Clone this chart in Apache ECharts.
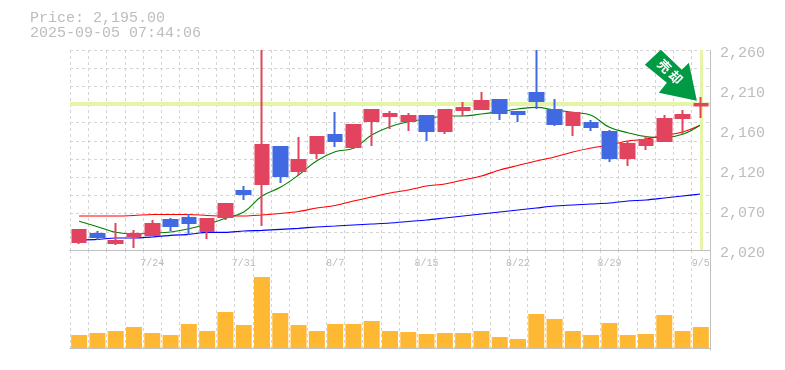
<!DOCTYPE html>
<html>
<head>
<meta charset="utf-8">
<style>html,body{margin:0;padding:0;background:#fff}#c{width:785px;height:370px}</style>
<script src="https://cdn.jsdelivr.net/npm/echarts@6/dist/echarts.min.js"></script>
</head>
<body>
<div id="c"></div>
<script>
const dates = ['7/17','7/18','7/22','7/23','7/24','7/25','7/28','7/29','7/30','7/31','8/1','8/4','8/5','8/6','8/7','8/8','8/12','8/13','8/14','8/15','8/18','8/19','8/20','8/21','8/22','8/25','8/26','8/27','8/28','8/29','9/1','9/2','9/3','9/4','9/5'];
const priceTickLabels = ['2,020','2,070','2,120','2,160','2,210','2,260'];
// [open, close, low, high]
const candles = [
[2029.6,2044,2027.2,2045.2],[2039.2,2035.6,2032,2042.8],[2028.4,2030.8,2026,2052.4],[2036.8,2039.2,2022.4,2044],
[2038,2051.2,2036.8,2056],[2056,2048.8,2042.8,2058.4],[2058.4,2052.4,2038,2063.2],[2042.8,2057.2,2033.2,2057.2],
[2059.6,2075.2,2056,2075.2],[2090.8,2087.2,2080,2096.8],[2099.2,2146,2048.8,2260],[2143.6,2108.8,2100.4,2143.6],
[2114.8,2128,2110,2155.6],[2136.4,2155.6,2129.2,2156.8],[2158,2150.8,2143.6,2185.6],[2143.6,2170,2141.2,2170],
[2174.8,2188,2144.8,2188],[2180.8,2183.2,2165.2,2186.8],[2174.8,2180.8,2162.8,2184.4],[2180.8,2162.8,2150.8,2180.8],
[2162.8,2188,2159.2,2188],[2188,2190.4,2180.8,2197.6],[2189.2,2198.8,2188,2209.6],[2200,2184.4,2176,2200],
[2185.6,2183.2,2173.6,2185.6],[2208.4,2198.8,2189.2,2260],[2188,2171.2,2168.8,2201.2],[2170,2184.4,2156.8,2184.4],
[2172.4,2167.6,2162.8,2176],[2161.6,2130.4,2125.6,2164],[2130.4,2147.2,2120.8,2150.8],[2146,2152,2140,2156.8],
[2150.8,2177.2,2150.8,2182],[2178.4,2182,2159.2,2188],[2193.4,2195.2,2178.4,2203.6]];
const maShort = [2054.4,2048,2041.2,2039.2,2040.4,2041.6,2045.6,2050.8,2058,2065.6,2084.8,2095.2,2110,2127.2,2138,2142,2158,2168,2174,2177.2,2180.8,2180.8,2183.2,2186,2189.2,2191.2,2188,2185.2,2181.6,2167.2,2160.8,2156,2154.8,2158.8,2170.4];
const maMid = [2060.8,2060.8,2060.8,2061.4,2062.6,2062.6,2062.6,2061.4,2060.8,2060.8,2062,2063.8,2066.2,2070.4,2073.4,2078.8,2083.6,2088.4,2092,2096.8,2099.2,2104,2108.8,2116,2121.4,2126.8,2131.6,2137.6,2142.4,2146,2150.8,2153.2,2157.4,2161.6,2170];
const maLong = [2032,2032.8,2034.4,2034.4,2035.6,2037.6,2038.8,2041.2,2041.2,2042.8,2043.6,2044.8,2046,2047.6,2048.8,2050,2051.2,2052.4,2054.2,2056,2058.4,2060.8,2063.2,2065.6,2068,2070.4,2072.8,2074,2075.2,2076.4,2078.8,2080,2082.4,2084.8,2087.2];
const volumes = [13,15,17,21,15,13,24,17,36,23,71,35,23,17,24,24,27,17,16,14,15,15,17,11,9,34,29,17,13,25,13,14,33,17,21];
const lastPrice = 2195;

const MONO = '"Liberation Mono","DejaVu Sans Mono",monospace';
const dash = {color:'#d4d4d4',type:[3,3],width:1};
const vSplit = {show:true,interval:0,lineStyle:dash};
const chart = echarts.init(document.getElementById('c'),null,{renderer:'canvas'});
const arrowPath = 'path://M16 0L37 20L44 13L52 51L14 43L22 33L0 15Z';
const guide = {color:'#E4F5A8'};
chart.setOption({
  animation:false,
  backgroundColor:'#fff',
  title:{text:'Price: 2,195.00\n2025-09-05 07:44:06',left:30,top:11,padding:0,
    textStyle:{fontFamily:MONO,fontSize:15,fontWeight:'normal',color:'#bdbdbd',lineHeight:15}},
  grid:[{left:70,top:50,width:640,height:200},{left:70,top:250,width:640,height:100}],
  xAxis:[
    {type:'category',gridIndex:0,data:dates,boundaryGap:true,
     axisLine:{show:true,lineStyle:{color:'#c0c0c0'}},axisTick:{show:false},splitLine:vSplit,
     axisLabel:{interval:(i)=>i%5===4,margin:8,fontFamily:MONO,fontSize:10,color:'#bcbcbc',hideOverlap:false}},
    {type:'category',gridIndex:1,data:dates,boundaryGap:true,
     axisLine:{show:true,lineStyle:{color:'#c0c0c0',width:1}},axisTick:{show:false},axisLabel:{show:false},splitLine:vSplit}
  ],
  yAxis:[
    {type:'value',gridIndex:0,min:2020,max:2260,show:false,splitLine:{show:false}},
    {type:'value',gridIndex:0,min:0,max:5,interval:1,position:'right',
     axisLine:{show:true,lineStyle:{color:'#c0c0c0'}},axisTick:{show:false},splitLine:{show:false},
     axisLabel:{margin:10,verticalAlign:'top',lineHeight:6,fontFamily:MONO,fontSize:15,color:'#bdbdbd',
       formatter:(v)=>priceTickLabels[v]}},
    {type:'value',gridIndex:0,min:0,max:11,interval:1,position:'left',
     axisLine:{show:false},axisTick:{show:false},axisLabel:{show:false},
     splitLine:{show:true,lineStyle:dash}},
    {type:'value',gridIndex:1,min:-2,max:98,position:'right',
     axisLine:{show:true,lineStyle:{color:'#c0c0c0'}},axisTick:{show:false},axisLabel:{show:false},splitLine:{show:false}}
  ],
  series:[
    {type:'line',name:'long',xAxisIndex:0,yAxisIndex:0,data:maLong,z:2,symbol:'none',smooth:0.3,
     lineStyle:{color:'#0000ff',width:1.1},
     markLine:{silent:true,symbol:'none',label:{show:false},animation:false,
       data:[{yAxis:lastPrice,lineStyle:{color:guide.color,width:4,type:'solid'}},
             {xAxis:dates[dates.length-1],lineStyle:{color:guide.color,width:3,type:'solid'}}]}},
    {type:'line',name:'mid',xAxisIndex:0,yAxisIndex:0,data:maMid,z:3,symbol:'none',smooth:0.3,lineStyle:{color:'#ff0000',width:1.1}},
    {type:'line',name:'short',xAxisIndex:0,yAxisIndex:0,data:maShort,z:3,symbol:'none',smooth:0.4,lineStyle:{color:'#008000',width:1.1}},
    {type:'candlestick',xAxisIndex:0,yAxisIndex:0,data:candles,z:5,barWidth:14,
     itemStyle:{color:'#E2445F',borderColor:'#E2445F',color0:'#4169E1',borderColor0:'#4169E1',borderWidth:2},
     markPoint:{silent:true,animation:false,data:[{
       coord:[dates[dates.length-1],lastPrice],
       symbol:arrowPath,symbolSize:[52,51],symbolOffset:[-30,-29],
       itemStyle:{color:'#009944'},
       label:{show:true,position:'inside',formatter:'売 却',rotate:-45,offset:[-3,-2],
         color:'#fff',fontSize:13,fontWeight:'bold',fontFamily:'"Noto Sans CJK JP"'}
     }]}},
    {type:'bar',xAxisIndex:1,yAxisIndex:3,data:volumes,barWidth:16,itemStyle:{color:'#FFB833'}}
  ]
});
</script>
</body>
</html>
